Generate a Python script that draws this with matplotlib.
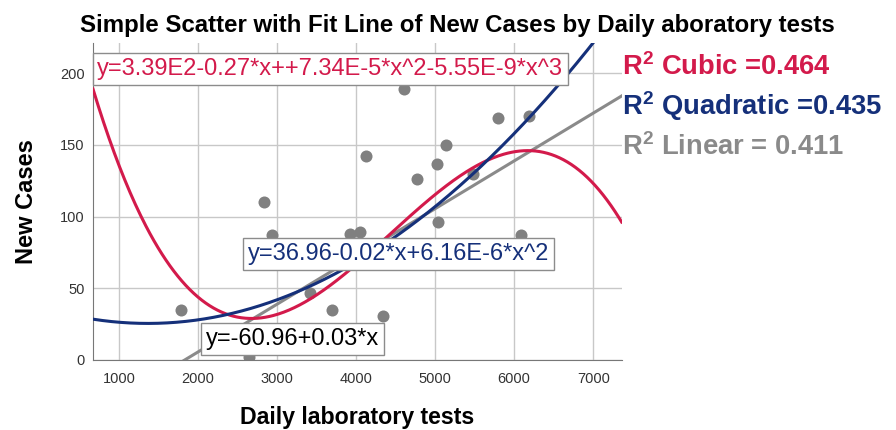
import numpy as np
import matplotlib
matplotlib.use("Agg")
import matplotlib.pyplot as plt

plt.rcParams["font.family"] = ["Liberation Sans", "DejaVu Sans"]
plt.rcParams["mathtext.fontset"] = "custom"
plt.rcParams["mathtext.rm"] = "Liberation Sans"
plt.rcParams["mathtext.bf"] = "Liberation Sans:bold"

# scatter values
tests = [1780, 2650, 2840, 2930, 3410, 3700, 3920, 4050, 4130, 4340,
         4600, 4770, 5020, 5040, 5140, 5480, 5800, 6090, 6190]
new_cases = [35, 2, 110, 87, 47, 35, 88, 89, 142, 31,
             189, 126, 137, 96, 150, 130, 169, 87, 170]

# fit coefficients (constant first), unrounded to follow the drawn curves
linear_coef = [-60.96, 0.0333]
quad_coef = [36.96, -0.0168, 6.16e-6]
cubic_coef = [340.0, -0.2717, 7.277e-5, -5.483e-9]

eq_labels = ["y=3.39E2-0.27*x++7.34E-5*x^2-5.55E-9*x^3",
             "y=36.96-0.02*x+6.16E-6*x^2",
             "y=-60.96+0.03*x"]
r2_labels = [r"R$^{\mathbf{2}}$ Cubic =0.464",
             r"R$^{\mathbf{2}}$ Quadratic =0.435",
             r"R$^{\mathbf{2}}$ Linear = 0.411"]

red = "#D31A4B"
blue = "#15307A"
grey = "#8A8A8A"

fig = plt.figure(figsize=(8.96, 4.30), dpi=100)
ax = fig.add_axes([0.1038, 0.1628, 0.590, 0.737])

ax.set_xlim(670, 7360)
ax.set_ylim(0, 221)
ax.set_xticks([1000, 2000, 3000, 4000, 5000, 6000, 7000])
ax.set_yticks([0, 50, 100, 150, 200])
ax.grid(True, color="#c8c8c8", linewidth=1)
ax.set_axisbelow(True)
ax.tick_params(axis="x", length=0, labelsize=10.5, labelcolor="#333333", pad=9)
ax.tick_params(axis="y", length=0, labelsize=10.5, labelcolor="#333333", pad=6)
for side in ["top", "right"]:
    ax.spines[side].set_visible(False)
for side in ["left", "bottom"]:
    ax.spines[side].set_color("#777777")

ax.scatter(tests, new_cases, s=75, color="#808080", zorder=2, linewidths=0)

xs = np.linspace(670, 7360, 400)
ax.plot(xs, np.polynomial.polynomial.polyval(xs, linear_coef), color=grey, lw=2.2, zorder=3)
ax.plot(xs, np.polynomial.polynomial.polyval(xs, cubic_coef), color=red, lw=2.2, zorder=4)
ax.plot(xs, np.polynomial.polynomial.polyval(xs, quad_coef), color=blue, lw=2.2, zorder=5)

box = dict(boxstyle="square,pad=0.2", fc="white", ec="#8c8c8c", lw=1)
ax.text(0.008, 0.918, eq_labels[0], transform=ax.transAxes, color=red,
        fontsize=17, va="center", ha="left", bbox=box, zorder=6)
ax.text(0.293, 0.334, eq_labels[1], transform=ax.transAxes, color=blue,
        fontsize=17, va="center", ha="left", bbox=box, zorder=6)
ax.text(0.214, 0.066, eq_labels[2], transform=ax.transAxes, color="black",
        fontsize=17, va="center", ha="left", bbox=box, zorder=6)

legend_y = [0.826, 0.733, 0.640]
for lab, col, yy in zip(r2_labels, [red, blue, grey], legend_y):
    fig.text(0.694, yy, lab, color=col, fontsize=19.7, fontweight="bold",
             va="baseline", ha="left")

fig.text(0.511, 0.9256, "Simple Scatter with Fit Line of New Cases by Daily aboratory tests",
         fontsize=17.3, fontweight="bold", ha="center", va="baseline")
ax.set_xlabel("Daily laboratory tests", fontsize=16.7, fontweight="bold", labelpad=14)
ax.set_ylabel("New Cases", fontsize=17, fontweight="bold", labelpad=16)

fig.savefig("out.png", dpi=100)
